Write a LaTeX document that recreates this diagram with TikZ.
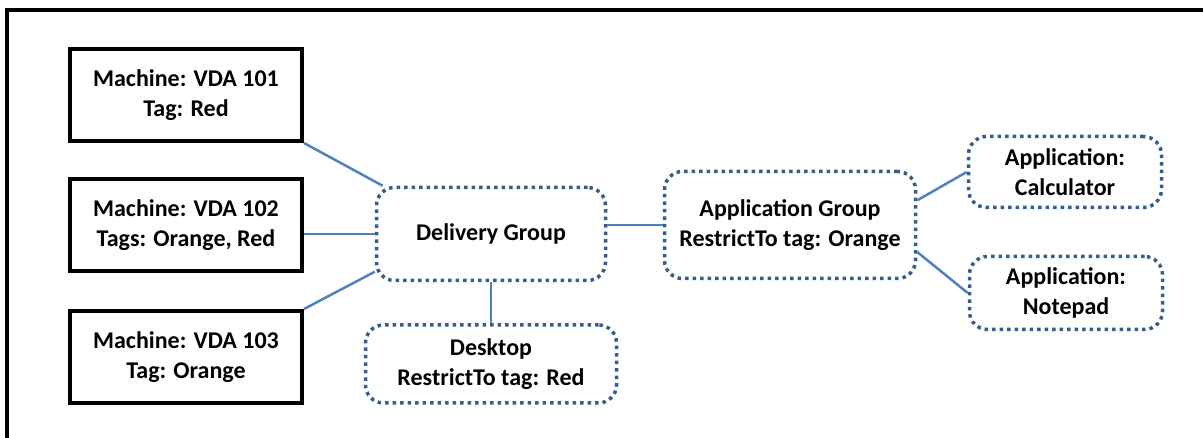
\documentclass[tikz,border=0pt]{standalone}
\usepackage{fontspec}
\setmainfont{Carlito}
\usetikzlibrary{positioning}
\definecolor{linkblue}{HTML}{4F81BD}
\definecolor{dotblue}{HTML}{385D8A}
\tikzset{
  lbl/.style={align=center, font=\fontsize{24pt}{29.5pt}\selectfont\bfseries},
  machine/.style={lbl, draw=black, line width=4pt, minimum width=232pt, minimum height=92pt},
  group/.style={lbl, draw=dotblue, line width=3.5pt, dash pattern=on 3.5pt off 4pt, rounded corners=18pt},
  link/.style={draw=linkblue, line width=2.5pt}
}

\begin{document}
\begin{tikzpicture}[x=1pt, y=-1pt]
\useasboundingbox (0,0) rectangle (1203,438);
\draw[line width=4pt] (1215,10) -- (7,10) -- (7,450);

% machines
\node[machine] (m1) at (186,95) {Machine: VDA 101\\Tag: Red};
\node[machine] (m2) at (186,225) {Machine: VDA 102\\Tags: Orange, Red};
\node[machine] (m3) at (186,357) {Machine: VDA 103\\Tag: Orange};

% groups
\node[group, minimum width=229pt, minimum height=93pt] (dg) at (491,234) {Delivery Group};
\node[group, minimum width=251pt, minimum height=78pt] (desk) at (491,364) {Desktop\\RestrictTo tag: Red};
\node[group, minimum width=251pt, minimum height=107pt] (ag) at (790,225) {Application Group\\RestrictTo tag: Orange};
\node[group, minimum width=193pt, minimum height=71pt] (calc) at (1065,172) {Application:\\Calculator};
\node[group, minimum width=193pt, minimum height=73pt] (note) at (1066,293) {Application:\\Notepad};

% links
\draw[link] (m1.south east) -- (dg.156);
\draw[link] (dg.west) -- (m2.east |- dg.west);
\draw[link] (m3.north east) -- (dg.198);
\draw[link] (dg.south) -- (desk.north);
\draw[link] (ag.west) -- (ag.west -| dg.east);
\draw[link] (ag.11) -- (calc.west);
\draw[link] (ag.-12) -- (note.west);
\end{tikzpicture}
\end{document}
